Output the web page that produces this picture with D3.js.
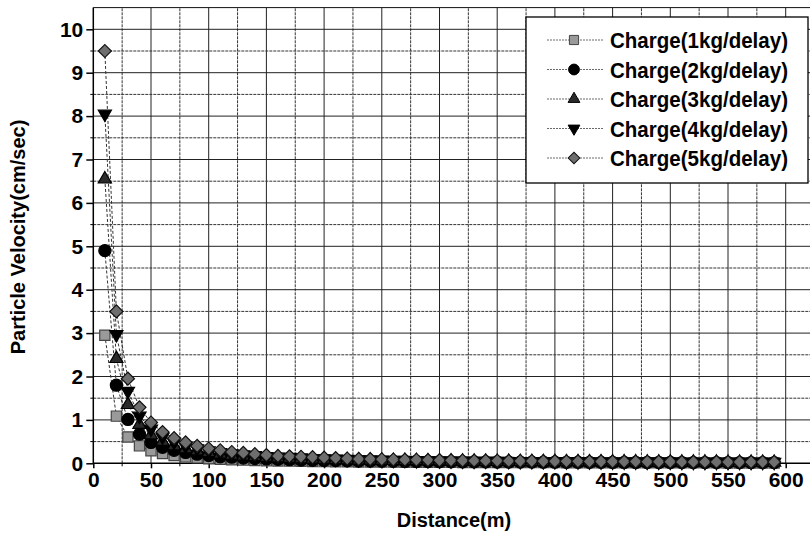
<!DOCTYPE html>
<html>
<head>
<meta charset="utf-8">
<script src="https://cdn.jsdelivr.net/npm/d3@7"></script>
<style>
  body { margin: 0; background: #fff; }
  svg { display: block; font-family: "Liberation Sans", Arial, sans-serif; font-weight: bold; }
</style>
</head>
<body>
<svg id="chart" width="810" height="533"></svg>
<script>
// distances (m)
let distances = [10,20,30,40,50,60,70,80,90,100,110,120,130,140,150,160,170,180,190,200,
  210,220,230,240,250,260,270,280,290,300,310,320,330,340,350,360,370,380,390,400,
  410,420,430,440,450,460,470,480,490,500,510,520,530,540,550,560,570,580,590];

let charge1 = [2.95,1.087,0.607,0.401,0.291,0.224,0.179,0.148,0.125,0.107,0.093,0.082,0.073,0.066,0.060,0.054,0.050,0.046,0.042,0.039,
  0.037,0.034,0.032,0.030,0.029,0.027,0.026,0.025,0.023,0.022,0.021,0.020,0.019,0.019,0.018,0.017,0.016,0.016,0.015,0.015,
  0.014,0.014,0.013,0.013,0.012,0.012,0.012,0.011,0.011,0.011,0.010,0.010,0.010,0.010,0.009,0.009,0.009,0.009,0.009];
let charge2 = [4.90,1.80,1.01,0.67,0.48,0.37,0.30,0.25,0.21,0.18,0.15,0.14,0.12,0.11,0.10,0.09,0.083,0.076,0.070,0.065,
  0.061,0.056,0.053,0.050,0.048,0.045,0.043,0.042,0.038,0.037,0.035,0.033,0.032,0.032,0.030,0.028,0.027,0.027,0.025,0.025,
  0.023,0.023,0.022,0.022,0.020,0.020,0.020,0.018,0.018,0.018,0.017,0.017,0.017,0.017,0.015,0.015,0.015,0.015,0.015];
let charge3 = [6.55,2.41,1.35,0.89,0.65,0.50,0.40,0.33,0.28,0.24,0.21,0.18,0.16,0.15,0.13,0.12,0.11,0.10,0.093,0.087,
  0.082,0.075,0.071,0.067,0.064,0.060,0.058,0.056,0.051,0.049,0.047,0.044,0.042,0.042,0.040,0.038,0.036,0.036,0.033,0.033,
  0.031,0.031,0.029,0.029,0.027,0.027,0.027,0.024,0.024,0.024,0.022,0.022,0.022,0.022,0.020,0.020,0.020,0.020,0.020];
let charge4 = [8.05,2.97,1.66,1.09,0.79,0.61,0.49,0.40,0.34,0.29,0.25,0.22,0.20,0.18,0.16,0.15,0.14,0.13,0.11,0.11,
  0.10,0.093,0.087,0.082,0.079,0.074,0.071,0.068,0.063,0.060,0.057,0.055,0.052,0.052,0.049,0.046,0.044,0.044,0.041,0.041,
  0.038,0.038,0.035,0.035,0.033,0.033,0.033,0.030,0.030,0.030,0.027,0.027,0.027,0.027,0.025,0.025,0.025,0.025,0.025];
let charge5 = [9.50,3.50,1.95,1.29,0.94,0.72,0.58,0.48,0.40,0.34,0.30,0.26,0.24,0.21,0.19,0.17,0.16,0.15,0.14,0.13,
  0.12,0.11,0.10,0.097,0.093,0.087,0.084,0.081,0.074,0.071,0.068,0.064,0.061,0.061,0.058,0.055,0.052,0.052,0.048,0.048,
  0.045,0.045,0.042,0.042,0.039,0.039,0.039,0.035,0.035,0.035,0.032,0.032,0.032,0.032,0.029,0.029,0.029,0.029,0.029];

let seriesNames = ["Charge(1kg/delay)","Charge(2kg/delay)","Charge(3kg/delay)","Charge(4kg/delay)","Charge(5kg/delay)"];
let seriesValues = [charge1, charge2, charge3, charge4, charge5];

let xTicks = [0,50,100,150,200,250,300,350,400,450,500,550,600];
let yTicks = [0,1,2,3,4,5,6,7,8,9,10];

// marker styles per series
let markers = [
  {type: d3.symbolSquare, size: 105, rot: 0, fill: "#9a9a9a", stroke: "#444"},
  {type: d3.symbolCircle, size: 115, rot: 0, fill: "#000", stroke: "#000"},
  {type: d3.symbolTriangle, size: 75, rot: 0, fill: "#2a2a2a", stroke: "#000"},
  {type: d3.symbolTriangle, size: 75, rot: 180, fill: "#000", stroke: "#000"},
  {type: d3.symbolSquare, size: 85, rot: 45, fill: "#6e6e6e", stroke: "#111"}
];

let svg = d3.select("#chart");

let plotLeft = 93.3, plotBottom = 463.3;

let x = d3.scaleLinear().domain([0, 625]).range([plotLeft, plotLeft + 625 * (785.7 - 93.3) / 600]);
let y = d3.scaleLinear().domain([0, 10.5]).range([plotBottom, plotBottom - 10.5 * (463.3 - 29.3) / 10]);

// grid
let grid = svg.append("g");
d3.range(25, 625, 25).forEach((v)=>{
  grid.append("line")
      .attr("x1", x(v)).attr("x2", x(v))
      .attr("y1", y(0)).attr("y2", y(10.5))
      .attr("stroke", v % 50 === 0 ? "#222" : "#333")
      .attr("stroke-dasharray", v % 50 === 0 ? null : "3,1")
      .attr("stroke-width", 1);
});
d3.range(0.5, 10.5, 0.5).forEach((v)=>{
  grid.append("line")
      .attr("x1", x(0)).attr("x2", 810)
      .attr("y1", y(v)).attr("y2", y(v))
      .attr("stroke", v % 1 === 0 ? "#222" : "#333")
      .attr("stroke-dasharray", v % 1 === 0 ? null : "3,1")
      .attr("stroke-width", 1);
});
// top frame
svg.append("line")
   .attr("x1", x(0)).attr("x2", 810)
   .attr("y1", y(10.5)).attr("y2", y(10.5))
   .attr("stroke", "#111");

// axes
let xAxis = d3.axisBottom(x).tickValues(xTicks).tickSize(5).tickPadding(4).tickFormat(d3.format("d"));
let gx = svg.append("g").attr("transform", "translate(0," + y(0) + ")").call(xAxis);
gx.select(".domain").attr("d", "M" + x(0) + ",0H810").attr("stroke", "#000").attr("stroke-width", 1.5);
gx.selectAll("text").attr("font-size", 21).attr("font-weight", "bold").attr("font-family", "Liberation Sans, Arial, sans-serif").attr("fill", "#000");
gx.selectAll("line").attr("stroke", "#000").attr("stroke-width", 1.5);
// minor x ticks
gx.selectAll(".minor").data(d3.range(25, 625, 50)).enter().append("line")
  .attr("x1", (d)=>x(d)).attr("x2", (d)=>x(d)).attr("y1", 0).attr("y2", 3).attr("stroke", "#000");

let yAxis = d3.axisLeft(y).tickValues(yTicks).tickSize(7).tickPadding(3).tickFormat(d3.format("d"));
let gy = svg.append("g").attr("transform", "translate(" + x(0) + ",0)").call(yAxis);
gy.select(".domain").attr("d", "M0," + y(0) + "V" + y(10.5)).attr("stroke", "#000").attr("stroke-width", 1.5);
gy.selectAll("text").attr("font-size", 21).attr("font-weight", "bold").attr("font-family", "Liberation Sans, Arial, sans-serif").attr("fill", "#000");
gy.selectAll("line").attr("stroke", "#000").attr("stroke-width", 1.5);
gy.selectAll(".minor").data(d3.range(0.5, 10.5, 1)).enter().append("line")
  .attr("x1", -3).attr("x2", 0).attr("y1", (d)=>y(d)).attr("y2", (d)=>y(d)).attr("stroke", "#000");

// series lines and markers
let line = d3.line().x((d)=>x(d[0])).y((d)=>y(d[1]));
seriesValues.forEach((vals, i)=>{
  let pts = distances.map((d, j)=>[d, vals[j]]);
  svg.append("path")
     .datum(pts)
     .attr("d", line)
     .attr("fill", "none")
     .attr("stroke", "#333")
     .attr("stroke-width", 1)
     .attr("stroke-dasharray", "3,2");
});
seriesValues.forEach((vals, i)=>{
  let m = markers[i];
  let pts = distances.map((d, j)=>[d, vals[j]]);
  svg.append("g").selectAll("path")
     .data(pts)
     .enter()
     .append("path")
     .attr("d", d3.symbol().type(m.type).size(m.size))
     .attr("transform", (d)=>"translate(" + x(d[0]) + "," + y(d[1]) + ") rotate(" + m.rot + ")")
     .attr("fill", m.fill)
     .attr("stroke", m.stroke)
     .attr("stroke-width", 1.2);
});

// legend
let legend = svg.append("g");
legend.append("rect")
      .attr("x", 526).attr("y", 17).attr("width", 282).attr("height", 166)
      .attr("fill", "#fff").attr("stroke", "#000").attr("stroke-width", 1.3);
seriesNames.forEach((name, i)=>{
  let cy = 40 + i * 29.5;
  let m = markers[i];
  legend.append("line")
        .attr("x1", 547).attr("x2", 603).attr("y1", cy).attr("y2", cy)
        .attr("stroke", "#444").attr("stroke-width", 0.8).attr("stroke-dasharray", "2,1");
  legend.append("path")
        .attr("d", d3.symbol().type(m.type).size(m.size * 0.8))
        .attr("transform", "translate(574," + cy + ") rotate(" + m.rot + ")")
        .attr("fill", m.fill).attr("stroke", m.stroke);
  legend.append("text")
        .attr("x", 610).attr("y", cy + 8)
        .attr("font-size", 22.5)
        .attr("textLength", 178)
        .attr("lengthAdjust", "spacingAndGlyphs")
        .text(name);
});

// axis titles
svg.append("text")
   .attr("x", 454).attr("y", 527)
   .attr("text-anchor", "middle")
   .attr("font-size", 20)
   .text("Distance(m)");
svg.append("text")
   .attr("transform", "translate(25,237) rotate(-90)")
   .attr("text-anchor", "middle")
   .attr("font-size", 20)
   .text("Particle Velocity(cm/sec)");
</script>
</body>
</html>
